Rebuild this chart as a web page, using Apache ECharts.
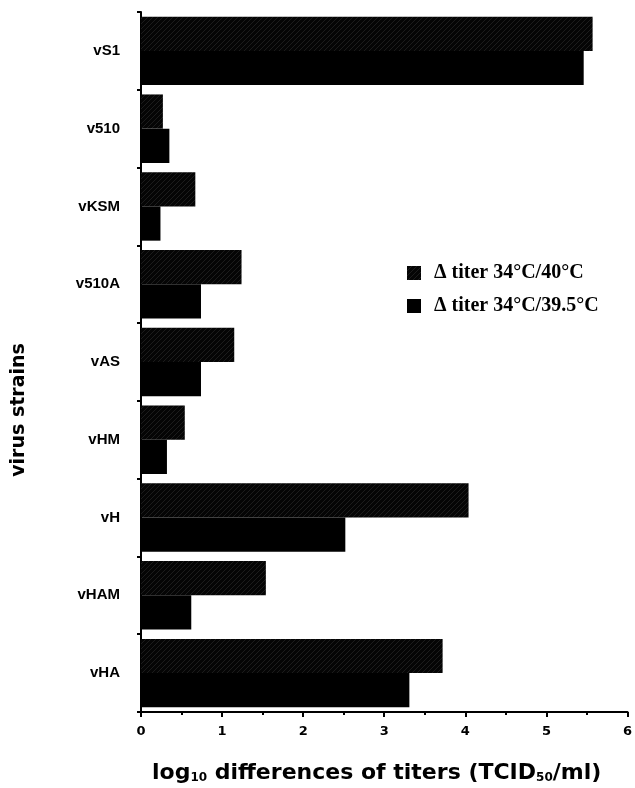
<!DOCTYPE html>
<html>
<head>
<meta charset="utf-8">
<script src="https://cdn.jsdelivr.net/npm/echarts@6/dist/echarts.min.js"></script>
<style>
  html, body { margin: 0; padding: 0; background: #fff; }
  #chart { width: 635px; height: 788px; }
</style>
</head>
<body>
<div id="chart"></div>
<script>
// Virus strains, top to bottom
const strains = ['vS1', 'v510', 'vKSM', 'v510A', 'vAS', 'vHM', 'vH', 'vHAM', 'vHA'];
// log10 titer differences, 34°C vs 40°C
const delta40 = [5.57, 0.27, 0.67, 1.24, 1.15, 0.54, 4.04, 1.54, 3.72];
// log10 titer differences, 34°C vs 39.5°C
const delta395 = [5.46, 0.35, 0.24, 0.74, 0.74, 0.32, 2.52, 0.62, 3.31];
const xTicks = [0, 1, 2, 3, 4, 5, 6];

// Faint diagonal hatching on a black ground
function hatchPattern() {
  const c = document.createElement('canvas');
  c.width = 5; c.height = 5;
  const g = c.getContext('2d');
  g.fillStyle = '#050505';
  g.fillRect(0, 0, 5, 5);
  g.strokeStyle = 'rgba(120,120,120,0.3)';
  g.lineWidth = 0.7;
  g.beginPath();
  g.moveTo(0, 5); g.lineTo(5, 0);
  g.moveTo(-2.5, 2.5); g.lineTo(2.5, -2.5);
  g.moveTo(2.5, 7.5); g.lineTo(7.5, 2.5);
  g.stroke();
  return c;
}
const hatch = { image: hatchPattern(), repeat: 'repeat' };

const sans = '"Liberation Sans", Arial, sans-serif';
const wide = '"DejaVu Sans", "Liberation Sans", sans-serif';
const serif = '"Liberation Serif", "Times New Roman", serif';

const chart = echarts.init(document.getElementById('chart'), null, { renderer: 'canvas' });
chart.setOption({
  animation: false,
  backgroundColor: '#ffffff',
  grid: { left: 141, right: 4, top: 12, bottom: 76 },
  legend: {
    orient: 'vertical',
    left: 402,
    top: 258,
    itemWidth: 14,
    itemHeight: 14,
    itemGap: 13,
    icon: 'rect',
    textStyle: { fontFamily: serif, fontWeight: 'bold', fontSize: 20, color: '#000', padding: [0, 0, 0, 8] },
    data: ['Δ titer 34°C/40°C', 'Δ titer 34°C/39.5°C']
  },
  xAxis: {
    type: 'value',
    min: 0,
    max: 6,
    interval: 1,
    axisLine: { show: true, lineStyle: { color: '#000', width: 2 } },
    axisTick: { show: true, length: 5, lineStyle: { color: '#000', width: 2 } },
    minorTick: { show: true, splitNumber: 2, length: 3, lineStyle: { color: '#000', width: 2 } },
    splitLine: { show: false },
    axisLabel: {
      margin: 13,
      fontFamily: wide, fontWeight: 'bold', fontSize: 13, color: '#000',
      formatter: v => xTicks.includes(v) ? String(v) : ''
    }
  },
  yAxis: {
    type: 'category',
    inverse: true,
    data: strains,
    axisLine: { show: true, lineStyle: { color: '#000', width: 2 } },
    axisTick: { show: true, length: 4, lineStyle: { color: '#000', width: 2 } },
    axisLabel: { margin: 21, fontFamily: sans, fontWeight: 'bold', fontSize: 15, color: '#000' }
  },
  series: [
    {
      name: 'Δ titer 34°C/40°C',
      type: 'bar',
      data: delta40,
      barGap: '0%',
      barCategoryGap: '12%',
      itemStyle: { color: hatch }
    },
    {
      name: 'Δ titer 34°C/39.5°C',
      type: 'bar',
      data: delta395,
      barGap: '0%',
      barCategoryGap: '12%',
      itemStyle: { color: '#000' }
    }
  ],
  graphic: [
    {
      type: 'text',
      left: 152,
      top: 762,
      style: {
        text: '{b|log}{s|10}{b| differences of titers (TCID}{s|50}{b|/ml)}',
        rich: {
          b: { fontFamily: wide, fontWeight: 'bold', fontSize: 22, fill: '#000', verticalAlign: 'bottom' },
          s: { fontFamily: wide, fontWeight: 'bold', fontSize: 12, fill: '#000', verticalAlign: 'bottom' }
        }
      }
    },
    {
      type: 'text',
      x: 19,
      y: 410,
      rotation: Math.PI / 2,
      style: {
        text: 'virus strains',
        fontFamily: wide, fontWeight: 'bold', fontSize: 19, fill: '#000',
        align: 'center', verticalAlign: 'middle'
      }
    }
  ]
});
</script>
</body>
</html>
